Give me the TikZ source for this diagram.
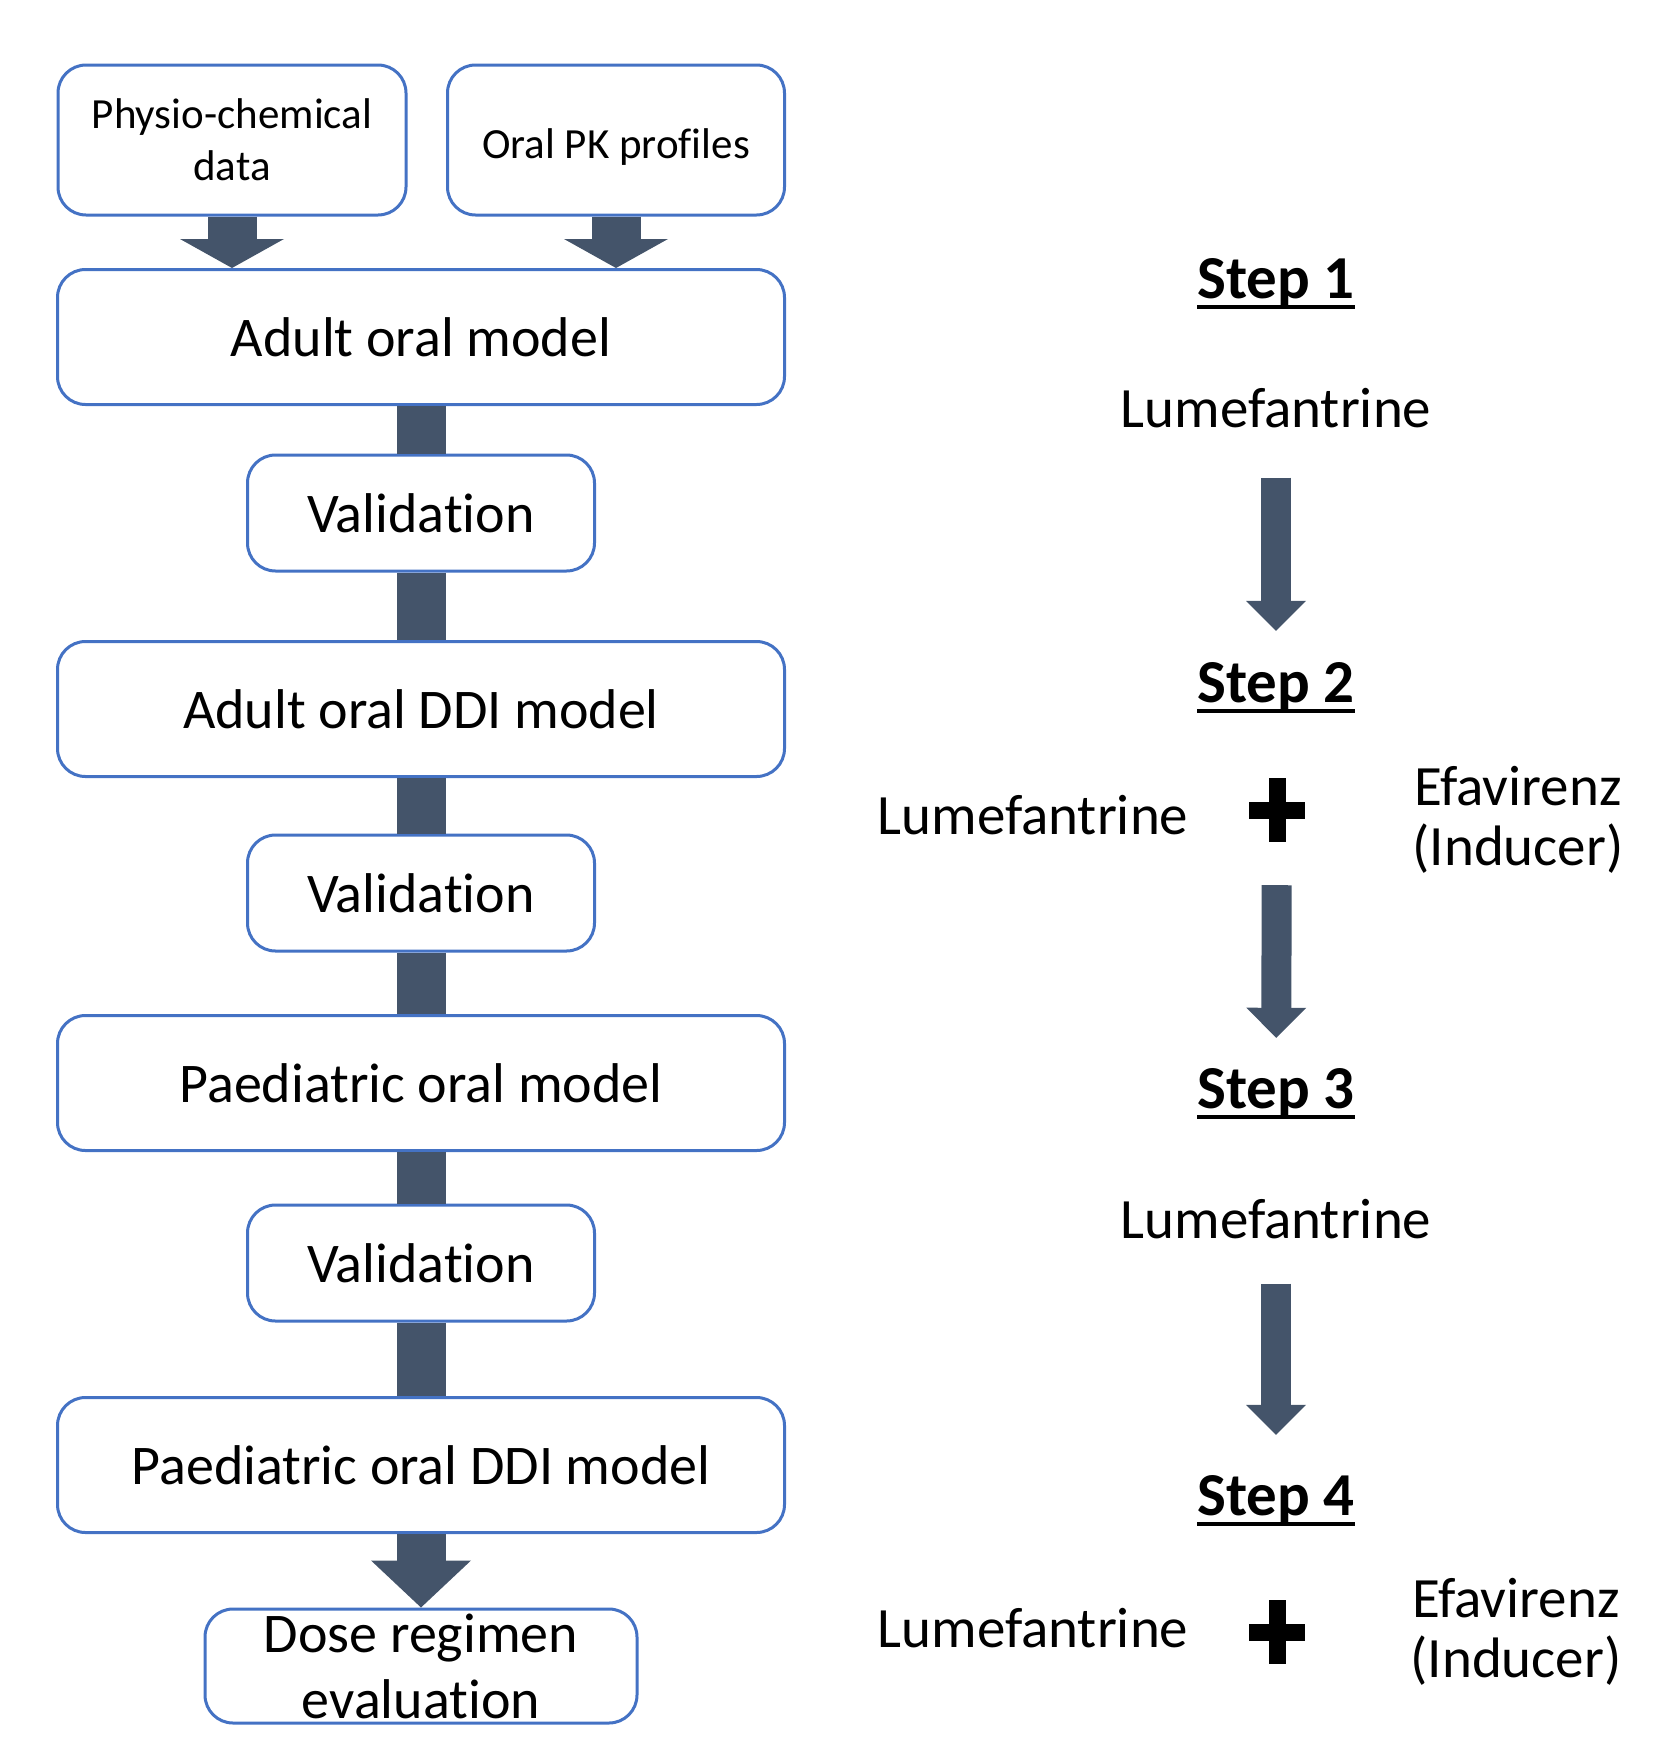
\documentclass[tikz,border=0pt]{standalone}
\usepackage{fontspec}
\setmainfont[RawFeature={-liga;-clig;-calt;-dlig}]{Carlito}
\usetikzlibrary{arrows.meta}
\definecolor{boxblue}{HTML}{4472C4}
\definecolor{barslate}{HTML}{44546A}
\newcommand\stepline[1]{\setbox0\hbox{#1}\rlap{\rule[-11pt]{\wd0}{4pt}}\box0}
\tikzset{
  box/.style={draw=boxblue, line width=3pt, rounded corners=28pt, fill=white, align=center, inner sep=0pt, font=\fontsize{56}{66}\selectfont},
  inputbox/.style={box, minimum height=150pt, font=\fontsize{43}{52}\selectfont},
  stage/.style={box, minimum width=727pt, minimum height=135pt},
  check/.style={box, minimum width=347pt, minimum height=116pt},
  txt/.style={inner sep=0pt, align=center, font=\fontsize{57}{60}\selectfont},
  steptitle/.style={inner sep=0pt, anchor=base, font=\fontsize{61}{64}\selectfont\bfseries},
  plussign/.style={inner sep=0pt, minimum width=56pt, minimum height=64pt,
    path picture={\fill[black] ([xshift=-8.5pt]path picture bounding box.north) rectangle ([xshift=8.5pt]path picture bounding box.south);
      \fill[black] ([yshift=-8.5pt]path picture bounding box.east) rectangle ([yshift=8.5pt]path picture bounding box.west);}},
  bar/.style={draw=barslate, line width=49pt},
  thinbar/.style={draw=barslate, line width=30pt, -{Triangle[width=60pt,length=30pt,line width=0pt]}}
}
\begin{document}
\begin{tikzpicture}[x=1pt,y=-1pt]
\useasboundingbox (0,0) rectangle (1679,1738);

% left column
\node[inputbox, minimum width=348pt] (phys) at (232,140) {Physio-chemical\\data};
\node[inputbox, minimum width=337pt, text height=44pt] (pk) at (616,140) {Oral PK profiles};
\node[stage] (adult) at (421,337) {Adult oral model};
\node[check] (val1) at (421,513) {Validation};
\node[stage] (addi) at (421,709) {Adult oral DDI model};
\node[check] (val2) at (421,893) {Validation};
\node[stage] (paed) at (421,1083) {Paediatric oral model};
\node[check] (val3) at (421,1263) {Validation};
\node[stage] (pddi) at (421,1465) {Paediatric oral DDI model};
\node[box, minimum width=432pt, minimum height=114pt] (dose) at (421,1666) {Dose regimen\\evaluation};

% right column
\node[steptitle] (step1) at (1276,298) {\stepline{Step 1}};
\node[txt, anchor=base] (lum1) at (1276,427) {Lumefantrine};
\node[steptitle] (step2) at (1276,702) {\stepline{Step 2}};
\node[txt, anchor=base] (lum2) at (1033,834) {Lumefantrine};
\node[plussign] (plus2) at (1277,810) {};
\node[txt] (efa2) at (1518,820) {Efavirenz\\(Inducer)};
\node[steptitle] (step3) at (1276,1108) {\stepline{Step 3}};
\node[txt, anchor=base] (lum3) at (1276,1238) {Lumefantrine};
\node[steptitle] (step4) at (1276,1515) {\stepline{Step 4}};
\node[txt, anchor=base] (lum4) at (1033,1647) {Lumefantrine};
\node[plussign] (plus4) at (1277,1632) {};
\node[txt] (efa4) at (1516,1632) {Efavirenz\\(Inducer)};

\path
(phys.south) edge[bar, -{Triangle[width=104pt,length=29pt,line width=0pt]}] (phys.south |- adult.north)
(pk.south) edge[bar, -{Triangle[width=104pt,length=29pt,line width=0pt]}] (pk.south |- adult.north)
(adult) edge[bar] (val1)
(val1) edge[bar] (addi)
(addi) edge[bar] (val2)
(val2) edge[bar] (paed)
(paed) edge[bar] (val3)
(val3) edge[bar] (pddi)
(pddi) edge[bar, -{Triangle[width=100pt,length=47pt,line width=0pt]}] (dose)
(lum1) edge[thinbar, shorten <=50pt, shorten >=31pt] (step2)
(plus2) edge[thinbar, shorten <=43pt, shorten >=30pt] (step3)
(lum3) edge[thinbar, shorten <=45pt, shorten >=40pt] (step4);
\end{tikzpicture}
\end{document}
